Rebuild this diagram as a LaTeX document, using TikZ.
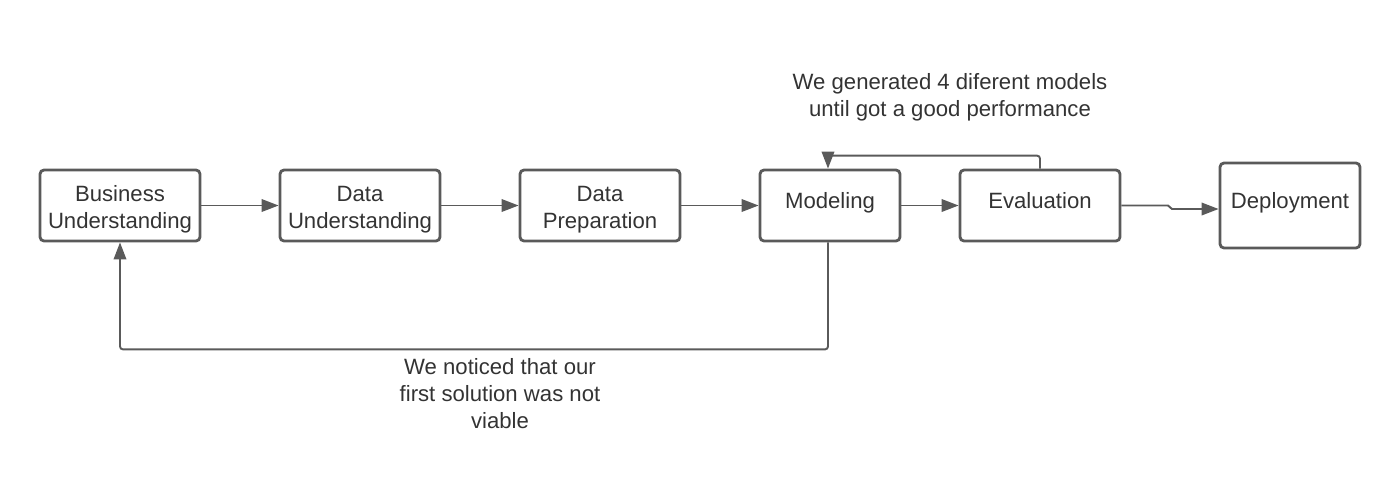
\documentclass[tikz,border=0pt]{standalone}
\usepackage{fontspec}
\setmainfont{Liberation Sans}
\usetikzlibrary{arrows.meta}
\definecolor{linegray}{HTML}{5A5A5A}
\definecolor{textgray}{HTML}{333333}
\newcommand{\topstrut}{\rule{0pt}{1.05em}}
\begin{document}
\begin{tikzpicture}[x=0.02cm,y=-0.02cm,
  phase/.style={draw=linegray,line width=1.6pt,rounded corners=0.08cm,minimum width=3.2cm,minimum height=1.42cm,inner sep=0pt,align=center,text=textgray,font=\fontsize{12.6}{15}\selectfont},
  oneline/.style={text height=0.72em,text depth=0.4em},
  link/.style={draw=linegray,line width=1.1pt,-{Triangle[length=0.34cm,width=0.25cm]},rounded corners=0.06cm},
  note/.style={align=center,text=textgray,font=\fontsize{12.6}{15.4}\selectfont}]
\useasboundingbox (0,0) rectangle (1400,478);
\node[phase] (bu) at (120,205.5) {\topstrut Business\\Understanding};
\node[phase] (du) at (360,205.5) {\topstrut Data\\Understanding};
\node[phase] (dp) at (600,205.5) {\topstrut Data\\Preparation};
\node[phase,oneline,minimum width=2.8cm] (mod) at (830,205.5) {Modeling};
\node[phase,oneline] (ev) at (1040,205.5) {Evaluation};
\node[phase,oneline,minimum width=2.8cm,minimum height=1.7cm] (dep) at (1290,205.5) {Deployment};
\draw[link] (bu) -- (du);
\draw[link] (du) -- (dp);
\draw[link] (dp) -- (mod);
\draw[link] (mod) -- (ev);
\coordinate (j1) at (1168,205.5);
\coordinate (j2) at (1172,209);
\draw[link,rounded corners=0pt] (ev.east) -- (j1) -- (j2) -- (j2-|dep.west);
\draw[link] (ev.north) -- ++(0,-13) -| ([xshift=-0.04cm]mod.north);
\draw[link] ([xshift=-0.04cm]mod.south) -- ++(0,107) -| (bu.south);
\node[note] (top) at (950,97) {We generated 4 diferent models\\until got a good performance};
\node[note] (bot) at (500,393.5) {We noticed that our\\first solution was not\\viable};
\end{tikzpicture}
\end{document}
